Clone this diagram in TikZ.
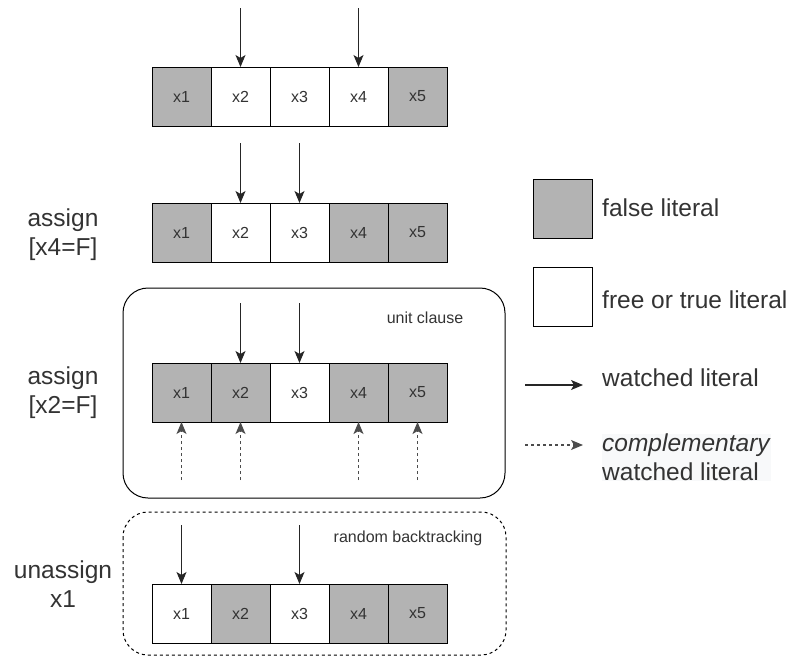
\documentclass[tikz,border=0pt]{standalone}
\usepackage{fontspec}
\setmainfont{Liberation Sans}
\usetikzlibrary{positioning,arrows.meta}
\definecolor{falsegray}{HTML}{B3B3B3}
\definecolor{textgray}{HTML}{333333}
\definecolor{notebg}{HTML}{F8F9FA}
\newcommand{\cellfont}{\fontsize{16}{19}\selectfont}
\newcommand{\bigfont}{\fontsize{24.5}{29}\selectfont}
\begin{document}
\begin{tikzpicture}[x=1pt,y=-1pt,
        false cell/.style={draw=black,fill=falsegray,line width=1pt,minimum size=59pt,
            inner sep=0pt,outer sep=0pt,text=textgray,font=\cellfont},
        free cell/.style={false cell,fill=white},
        watch/.style={-{Stealth[length=12pt,width=10pt,inset=3pt]},line width=1.1pt,draw=black!85},
        comp watch/.style={watch,draw=black!70,dash pattern=on 3pt off 3pt},
        step label/.style={align=center,text=textgray,font=\bigfont,inner sep=0pt},
        legend text/.style={anchor=west,align=left,text=textgray,font=\bigfont,inner sep=0pt},
        box note/.style={text=textgray,font=\cellfont,inner sep=0pt}]

        \useasboundingbox (0,0) rectangle (801,657);

        \node[false cell] (a1) at (181.5,96.5) {x1};
        \node[free cell]  (a2) [right=0pt of a1] {x2};
        \node[free cell]  (a3) [right=0pt of a2] {x3};
        \node[free cell]  (a4) [right=0pt of a3] {x4};
        \node[false cell] (a5) [right=0pt of a4] {x5};

        \node[false cell] (b1) at (181.5,232.5) {x1};
        \node[free cell]  (b2) [right=0pt of b1] {x2};
        \node[free cell]  (b3) [right=0pt of b2] {x3};
        \node[false cell] (b4) [right=0pt of b3] {x4};
        \node[false cell] (b5) [right=0pt of b4] {x5};

        \node[false cell] (c1) at (181.5,392.5) {x1};
        \node[false cell] (c2) [right=0pt of c1] {x2};
        \node[free cell]  (c3) [right=0pt of c2] {x3};
        \node[false cell] (c4) [right=0pt of c3] {x4};
        \node[false cell] (c5) [right=0pt of c4] {x5};

        \node[free cell]  (d1) at (181.5,613.5) {x1};
        \node[false cell] (d2) [right=0pt of d1] {x2};
        \node[free cell]  (d3) [right=0pt of d2] {x3};
        \node[false cell] (d4) [right=0pt of d3] {x4};
        \node[false cell] (d5) [right=0pt of d4] {x5};

        \coordinate[above=59pt of a2] (a2w);
        \coordinate[above=59pt of a4] (a4w);
        \coordinate[above=60pt of b2] (b2w);
        \coordinate[above=60pt of b3] (b3w);
        \coordinate[above=60pt of c2] (c2w);
        \coordinate[above=60pt of c3] (c3w);
        \coordinate[above=59pt of d1] (d1w);
        \coordinate[above=59pt of d3] (d3w);

        \coordinate[below=58pt of c1] (c1n);
        \coordinate[below=58pt of c2] (c2n);
        \coordinate[below=58pt of c4] (c4n);
        \coordinate[below=58pt of c5] (c5n);

        \draw[watch] (a2w) -- (a2);
        \draw[watch] (a4w) -- (a4);
        \draw[watch] (b2w) -- (b2);
        \draw[watch] (b3w) -- (b3);
        \draw[watch] (c2w) -- (c2);
        \draw[watch] (c3w) -- (c3);
        \draw[watch] (d1w) -- (d1);
        \draw[watch] (d3w) -- (d3);

        \draw[comp watch] (c1n) -- (c1);
        \draw[comp watch] (c2n) -- (c2);
        \draw[comp watch] (c4n) -- (c4);
        \draw[comp watch] (c5n) -- (c5);

        \draw[line width=1pt,rounded corners=25pt] (123,288) rectangle (505,498);
        \draw[line width=1pt,rounded corners=25pt,dash pattern=on 3pt off 3pt] (123,512) rectangle (506,655);
        \node[box note] (unit) at (425,318) {unit clause};
        \node[box note] (back) at (408,538) {random backtracking};

        \node[step label] (s1) at (63,235) {assign\\{[x4=F]}};
        \node[step label] (s2) at (63,393) {assign\\{[x2=F]}};
        \node[step label] (s3) at (63,584) {unassign\\x1};

        \node[false cell] (lf) at (562.5,208.5) {};
        \node[free cell]  (lt) at (562.5,297) {};
        \node[legend text] (lft) at (602,208) {false literal};
        \node[legend text] (ltt) at (602,300) {free or true literal};

        \coordinate (lwa) at (525,385);
        \coordinate (lwb) at (583,385);
        \coordinate (lca) at (525,445);
        \coordinate (lcb) at (583,445);
        \draw[watch] (lwa) -- (lwb);
        \draw[comp watch] (lca) -- (lcb);
        \node[legend text] (lwt) at (602,378) {watched literal};
        \node[legend text,fill=notebg] (lct) at (602,457) {\textit{complementary}\\watched literal};
\end{tikzpicture}
\end{document}
